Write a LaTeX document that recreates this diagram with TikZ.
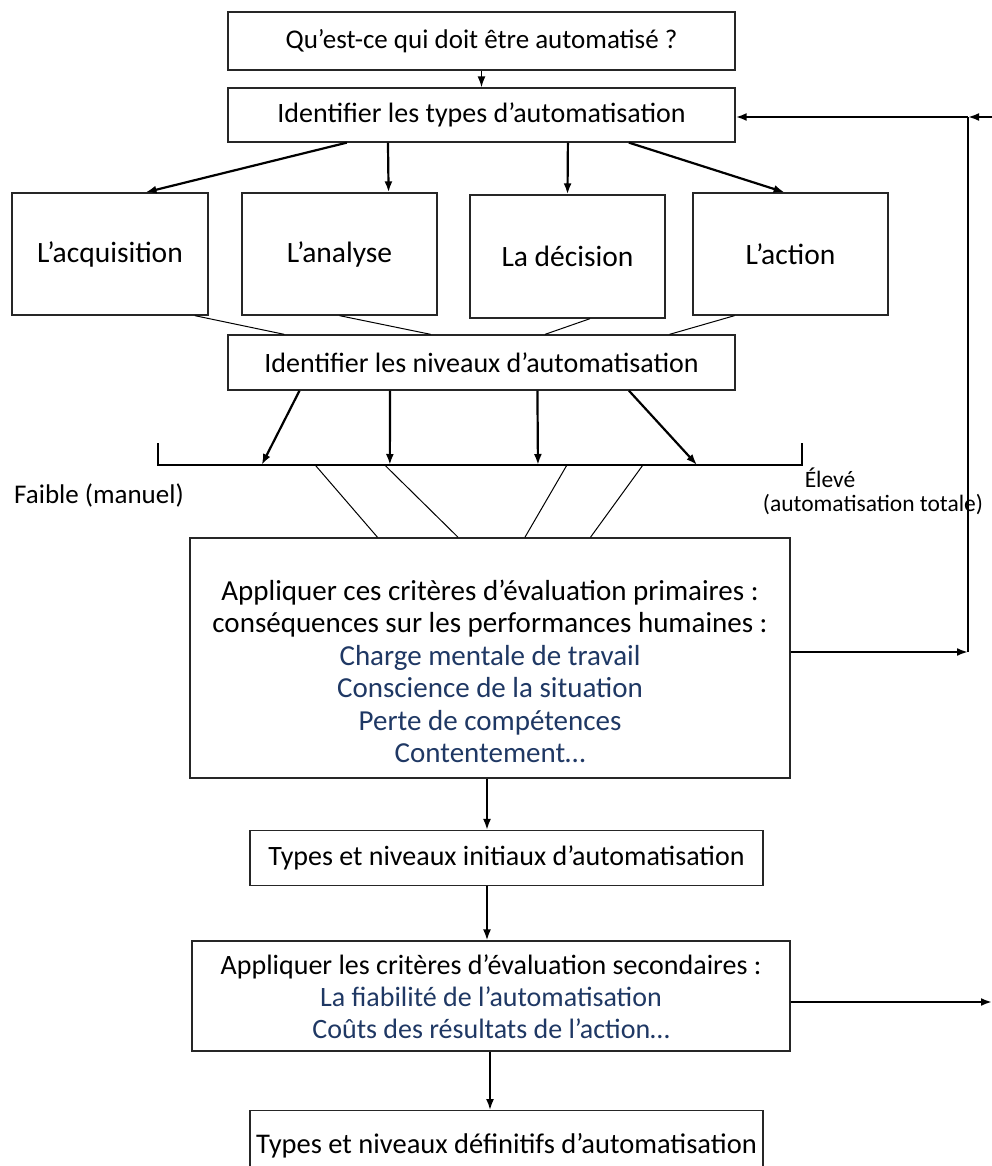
\documentclass[tikz,border=0pt]{standalone}
\usepackage{fontspec}
\setmainfont{Carlito}
\usetikzlibrary{arrows.meta,calc}
\definecolor{navy}{RGB}{31,56,100}
\newcommand{\blk}[2]{\raisebox{#1}[\height][\depth]{\begin{tabular}{@{}c@{}}#2\end{tabular}}}
\begin{document}
\begin{tikzpicture}[x=1pt,y=-1pt,
  box/.style={draw=black!85,line width=1.3pt,fill=white,inner sep=0pt,align=center,
    font=\fontsize{28}{32}\selectfont},
  arr/.style={line width=2.2pt,-{Latex[length=11pt,width=8pt]}},
  thin/.style={line width=1pt},
  lab/.style={font=\fontsize{23.5}{26}\selectfont,inner sep=0pt}]
\useasboundingbox (0,0) rectangle (992,1166);
% boxes
\node[box,minimum width=507,minimum height=58,font=\fontsize{27}{32}\selectfont] (q) at (481.5,41) {Qu’est-ce qui doit être automatisé ?};
\node[box,minimum width=507,minimum height=54] (types) at (481.5,115) {Identifier les types d’automatisation};
\node[box,minimum width=196,minimum height=122,font=\fontsize{29.5}{32}\selectfont] (acq) at (110,254) {L’acquisition};
\node[box,minimum width=195,minimum height=122,font=\fontsize{29.5}{32}\selectfont] (ana) at (339.5,254) {L’analyse};
\node[box,minimum width=195,minimum height=123,font=\fontsize{29.5}{32}\selectfont] (dec) at (567.5,256.5) {La décision};
\node[box,minimum width=195,minimum height=122,font=\fontsize{29.5}{32}\selectfont] (act) at (790.5,254) {L’action};
\node[box,minimum width=507,minimum height=55] (niv) at (481.5,362.5) {Identifier les niveaux d’automatisation};
\node[box,minimum width=600,minimum height=240,font=\fontsize{29}{32.5}\selectfont] (prim) at (490,658) {\blk{-17pt}{Appliquer ces critères d’évaluation primaires :\\
conséquences sur les performances humaines :\\
\textcolor{navy}{Charge mentale de travail}\\
\textcolor{navy}{Conscience de la situation}\\
\textcolor{navy}{Perte de compétences}\\
\textcolor{navy}{Contentement…}}};
\node[box,minimum width=513,minimum height=55] (init) at (506.5,858) {Types et niveaux initiaux d’automatisation};
\node[box,minimum width=598,minimum height=110] (sec) at (491,996) {\blk{-4pt}{Appliquer les critères d’évaluation secondaires :\\
\textcolor{navy}{La fiabilité de l’automatisation}\\
\textcolor{navy}{Coûts des résultats de l’action…}}};
\node[box,minimum width=513,minimum height=70,anchor=north,font=\fontsize{28.5}{32}\selectfont] (def) at (506.5,1110) {Types et niveaux définitifs d’automatisation};
% scale
\coordinate (sL) at (158,465);
\coordinate (sR) at (802,465);
\draw[line width=2.2pt] ($(sL)+(0,-22)$) -- (sL) -- (sR) -- ($(sR)+(0,-22)$);
\node[lab,font=\fontsize{27}{30}\selectfont] (faible) at (99,495) {Faible (manuel)};
\node[lab] (eleve) at (830,478) {Élevé};
\node[lab] (totale) at (873,505) {(automatisation totale)};
% arrows
\draw[arr,line width=1.6pt] (q.south) -- (types.north);
\draw[arr] ($(types.south west)!0.235!(types.south east)$) -- ($(acq.north west)!0.68!(acq.north east)$);
\draw[arr] ($(types.south west)!0.316!(types.south east)$) -- ($(ana.north west)!0.75!(ana.north east)$);
\draw[arr] ($(types.south west)!0.67!(types.south east)$) -- ($(dec.north west)!0.50!(dec.north east)$);
\draw[arr] ($(types.south west)!0.79!(types.south east)$) -- ($(act.north west)!0.47!(act.north east)$);
% thin lines boxes -> niv
\draw[thin] ($(acq.south west)!0.93!(acq.south east)$) -- ($(niv.north west)!0.112!(niv.north east)$);
\draw[thin] ($(ana.south west)!0.50!(ana.south east)$) -- ($(niv.north west)!0.40!(niv.north east)$);
\draw[thin] ($(dec.south west)!0.615!(dec.south east)$) -- ($(niv.north west)!0.625!(niv.north east)$);
\draw[thin] ($(act.south west)!0.215!(act.south east)$) -- ($(niv.north west)!0.87!(niv.north east)$);
% niv -> scale
\draw[arr] ($(niv.south west)!0.142!(niv.south east)$) -- ($(sL)!0.161!(sR)$);
\draw[arr] ($(niv.south west)!0.32!(niv.south east)$) -- ($(sL)!0.36!(sR)$);
\draw[arr] ($(niv.south west)!0.61!(niv.south east)$) -- ($(sL)!0.59!(sR)$);
\draw[arr] ($(niv.south west)!0.79!(niv.south east)$) -- ($(sL)!0.837!(sR)$);
% scale -> prim
\draw[thin] ($(sL)!0.244!(sR)$) -- ($(prim.north west)!0.313!(prim.north east)$);
\draw[thin] ($(sL)!0.352!(sR)$) -- ($(prim.north west)!0.447!(prim.north east)$);
\draw[thin] ($(sL)!0.635!(sR)$) -- ($(prim.north west)!0.558!(prim.north east)$);
\draw[thin] ($(sL)!0.753!(sR)$) -- ($(prim.north west)!0.667!(prim.north east)$);
% feedback loop
\coordinate (fbT) at (968,117);
\coordinate (fbB) at (968,652);
\coordinate (edgeT) at (996,117);
\coordinate (edgeB) at (992,1002);
\draw[arr] (prim.east |- fbB) -- (fbB);
\draw[line width=1.3pt] (fbB) -- (fbT);
\draw[arr] (fbT) -- (types.east |- fbT);
\draw[arr] (edgeT) -- (fbT);
\draw[arr] (sec.east |- edgeB) -- (edgeB);
% vertical chain
\draw[arr,line width=1.8pt] (prim.south -| 487,0) -- (init.north -| 487,0);
\draw[arr,line width=1.8pt] (init.south -| 487,0) -- (sec.north -| 487,0);
\draw[arr,line width=1.8pt] (sec.south -| 490,0) -- (def.north -| 490,0);
\end{tikzpicture}
\end{document}
